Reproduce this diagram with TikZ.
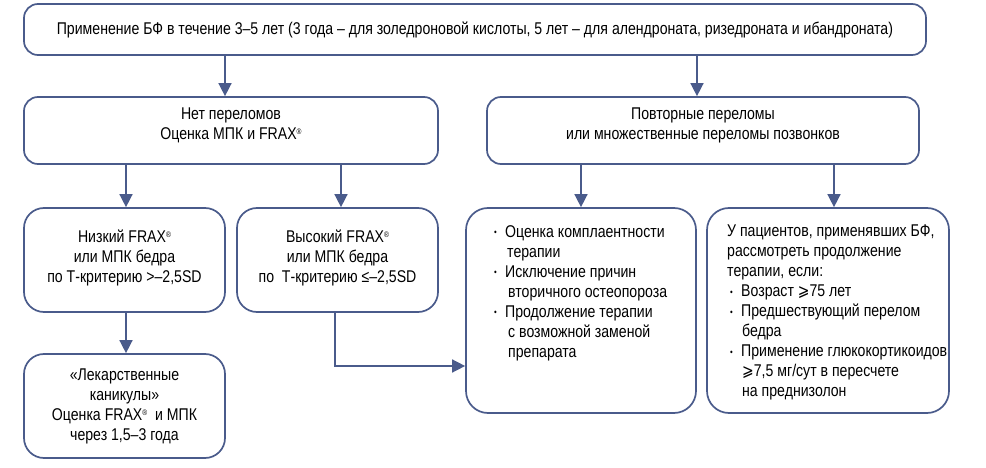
\documentclass[tikz,border=0pt]{standalone}
\usepackage{fontspec}
\setmainfont{Liberation Sans}[FakeStretch=0.83]
\newfontfamily\symf{DejaVu Sans}[FakeStretch=0.82]
\usetikzlibrary{arrows.meta}
\definecolor{bcol}{HTML}{4A5B8B}
\newcommand{\rg}{\raisebox{5pt}{\fontsize{8}{8}\selectfont\textregistered}}
\newcommand{\bul}{\makebox[11pt][l]{\raisebox{1.5pt}{\scalebox{0.55}{\textbullet}}}}
\newcommand{\geqs}{{\symf ⩾}}
\tikzset{
  box/.style={draw=bcol, line width=1.7pt, rounded corners=14pt, inner sep=0pt, align=center,
              font=\fontsize{17}{20}\selectfont},
  bigbox/.style={box, rounded corners=22pt},
  txt/.style={inner sep=0pt, align=left, anchor=north west, font=\fontsize{17}{20}\selectfont},
  arr/.style={draw=bcol, line width=1.5pt, -{Triangle[width=13pt,length=13pt]}},
}
\begin{document}
\begin{tikzpicture}[x=1pt,y=1pt]
\useasboundingbox (0,0) rectangle (986,-468);
\node[box, minimum width=902, minimum height=51] (top) at (475,-29.5)
  {Применение БФ в течение 3–5 лет (3 года – для золедроновой кислоты, 5 лет – для алендроната, ризедроната и ибандроната)};
\node[box, minimum width=414, minimum height=67] (net) at (231,-130.5)
  {\\[-18pt]Нет переломов\\Оценка МПК и FRAX\rg};
\node[box, minimum width=432, minimum height=67] (pov) at (703,-130.5)
  {\\[-18pt]Повторные переломы\\или множественные переломы позвонков};
\node[box, rounded corners=20pt, minimum width=201, minimum height=104] (low) at (124.5,-260)
  {Низкий FRAX\rg\\или МПК бедра\\по Т-критерию >–2,5SD\\[-12pt]};
\node[box, rounded corners=20pt, minimum width=201, minimum height=104] (high) at (337.5,-260)
  {Высокий FRAX\rg\\или МПК бедра\\по\ \ Т-критерию ≤–2,5SD\\[-12pt]};
\node[box, rounded corners=20pt, minimum width=201, minimum height=104] (hol) at (124.5,-406)
  {«Лекарственные\\каникулы»\\Оценка FRAX\rg\ \ и МПК\\через 1,5–3 года};
\node[bigbox, minimum width=230, minimum height=205] (b3) at (581,-310.5) {};
\node[bigbox, minimum width=242, minimum height=205] (b4) at (828,-310.5) {};
\node[txt] (t3) at (494,-225) {\bul Оценка комплаентности\\\hspace*{13pt}терапии\\\bul Исключение причин\\\hspace*{14pt}вторичного остеопороза\\\bul Продолжение терапии\\\hspace*{14pt}с возможной заменой\\\hspace*{14pt}препарата};
\node[txt] (t4) at (727,-225) {У пациентов, применявших БФ,\\рассмотреть продолжение\\терапии, если:\\\hspace*{3pt}\bul Возраст \geqs75 лет\\\hspace*{3pt}\bul Предшествующий перелом\\\hspace*{15pt}бедра\\\hspace*{3pt}\bul Применение глюкокортикоидов\\\hspace*{15pt}\geqs7,5 мг/сут в пересчете\\\hspace*{15pt}на преднизолон};
\draw[arr] ([xshift=-6pt]net.north |- top.south) -- ([xshift=-6pt]net.north);
\draw[arr] ([xshift=-6pt]pov.north |- top.south) -- ([xshift=-6pt]pov.north);
\draw[arr] ([xshift=1.5pt]low.north |- net.south) -- ([xshift=1.5pt]low.north);
\draw[arr] ([xshift=3.5pt]high.north |- net.south) -- ([xshift=3.5pt]high.north);
\draw[arr] (b3.north |- pov.south) -- (b3.north);
\draw[arr] ([xshift=6pt]b4.north |- pov.south) -- ([xshift=6pt]b4.north);
\draw[arr] ([xshift=1.5pt]low.south) -- ([xshift=1.5pt]hol.north);
\draw[arr] ([xshift=-2.5pt]high.south) |- ([yshift=-55.5pt]b3.west);
\end{tikzpicture}
\end{document}
